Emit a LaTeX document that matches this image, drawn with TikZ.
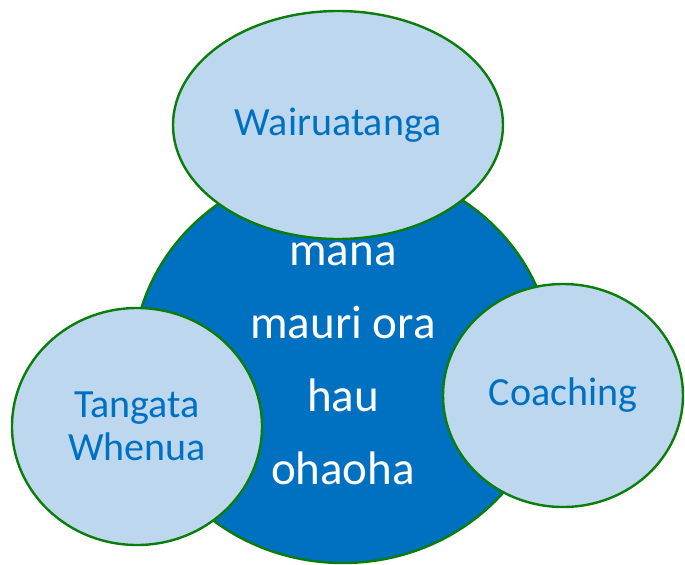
\documentclass[tikz,border=0pt]{standalone}
\usepackage{fontspec}
\setmainfont{Carlito}
\usepackage{xcolor}
\definecolor{hubbg}{RGB}{0,112,192}
\definecolor{petalbg}{RGB}{189,215,238}
\definecolor{petalbd}{RGB}{10,125,10}
\definecolor{petaltx}{RGB}{0,112,192}
\usepackage{tikz}
\usetikzlibrary{positioning, shapes.geometric}

\begin{document}
\begin{tikzpicture}[
  x=0.5pt, y=-0.5pt,
  hub/.style={ellipse, draw=petalbd, line width=1.2pt, fill=hubbg, inner sep=0pt,
              text=white, font=\fontsize{23.5}{36.5}\selectfont, align=center},
  petal/.style={ellipse, draw=petalbd, line width=1.2pt, fill=petalbg, inner sep=0pt,
                text=petaltx, font=\fontsize{20}{21.5}\selectfont, align=center},
]
\useasboundingbox (0,0) rectangle (685,564);

% Centre circle
\node[hub, minimum width=210pt, minimum height=199pt] (core) at (343,364)
  {mana\\mauri ora\\hau\\ohaoha};

% Outer circles
\node[petal, minimum width=165pt, minimum height=114pt] (wai) at (338,125) {Wairuatanga};
\node[petal, minimum width=125pt, minimum height=118.5pt] (tangata) at (137,426.5) {Tangata\\Whenua};
\node[petal, minimum width=120pt, minimum height=111.5pt] (coach) at (563,395.5) {Coaching};
\end{tikzpicture}
\end{document}
